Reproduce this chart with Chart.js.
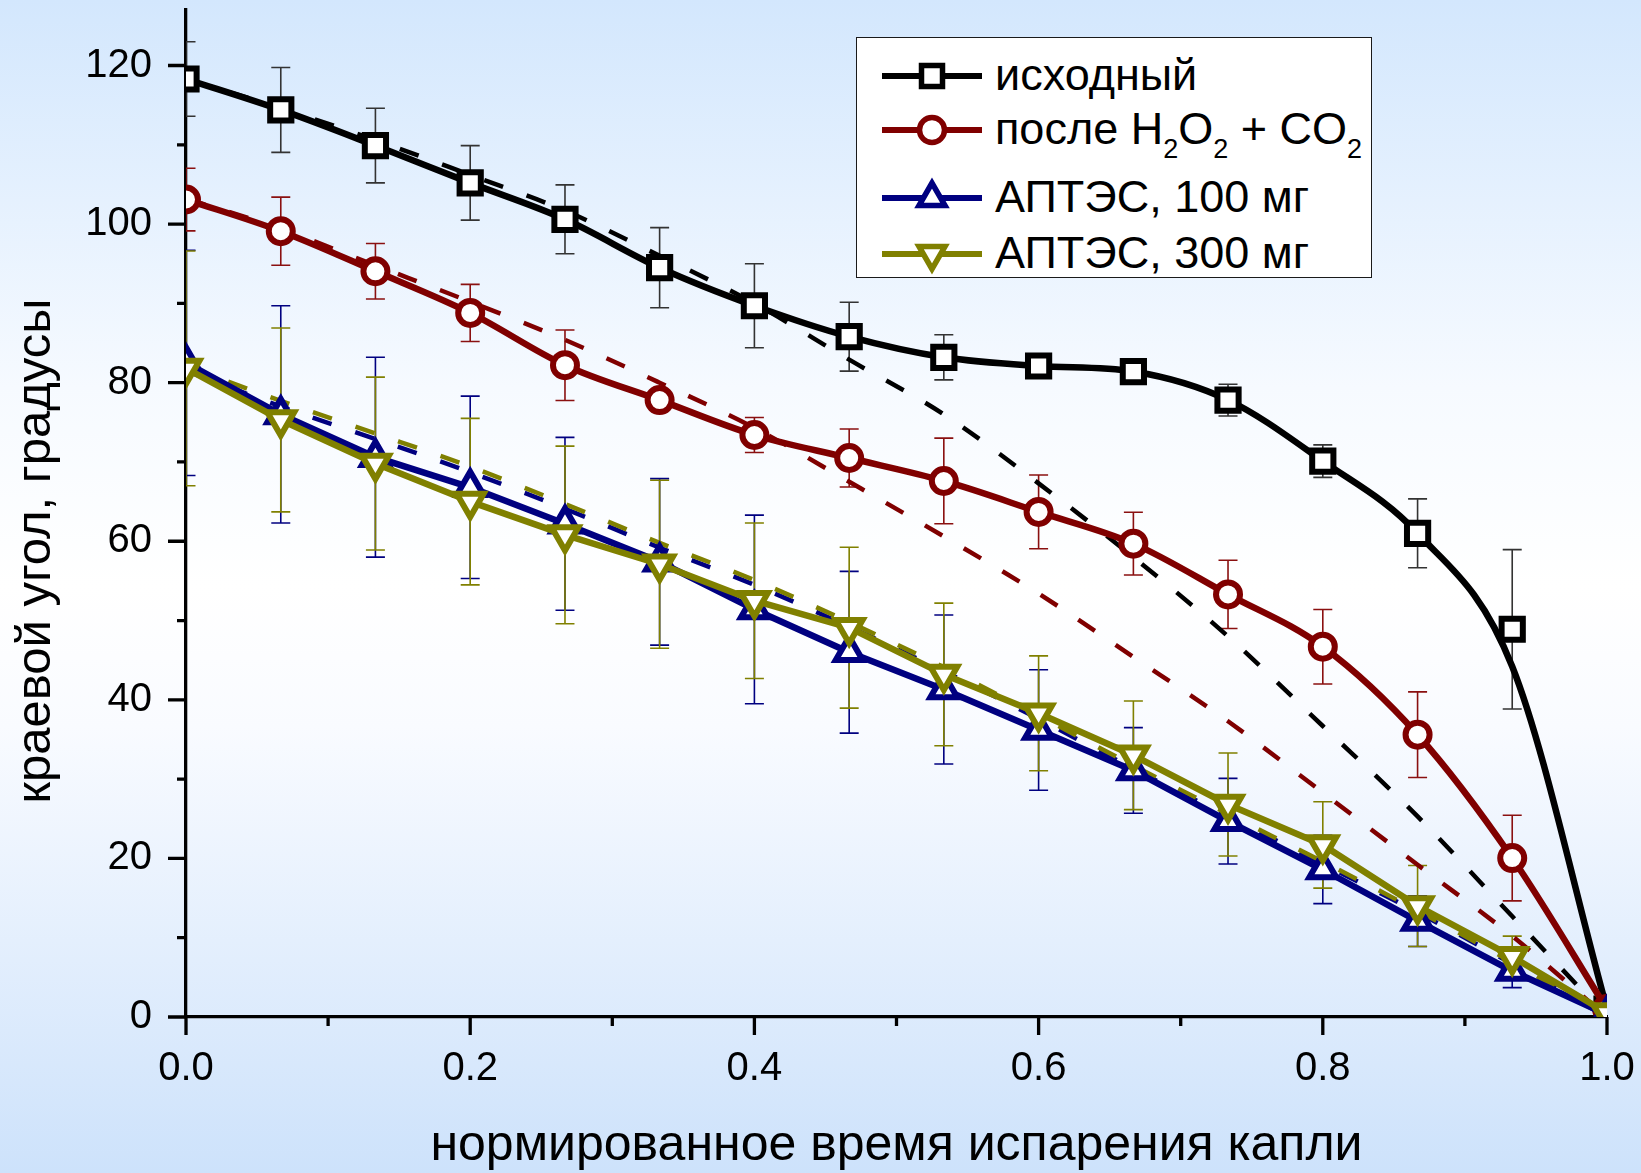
<!DOCTYPE html>
<html lang="ru">
<head>
    <meta charset="UTF-8">
    <title>Краевой угол при испарении капли</title>
    <script src="https://cdn.jsdelivr.net/npm/chart.js"></script>
    <style>
        html, body {
            margin: 0;
            padding: 0;
        }
        body {
            width: 1641px;
            height: 1173px;
            position: relative;
            overflow: hidden;
            font-family: "Liberation Sans", Arial, sans-serif;
            background: linear-gradient(to bottom,
                rgb(211, 231, 253) 0%,
                rgb(246, 250, 255) 33%,
                #ffffff 50%,
                rgb(249, 251, 255) 62%,
                rgb(205, 226, 251) 100%);
        }
        #chart {
            position: absolute;
            left: 0;
            top: 0;
        }
        .legend {
            position: absolute;
            left: 856px;
            top: 37px;
            width: 516px;
            height: 241px;
            box-sizing: border-box;
            background: #fff;
            border: 1.5px solid #1a1a1a;
        }
        .legend .row {
            position: absolute;
            left: 0;
            width: 100%;
            height: 50px;
        }
        .legend svg {
            position: absolute;
            left: 0;
            top: 0;
        }
        .legend .txt {
            position: absolute;
            left: 138px;
            top: 1px;
            font-size: 45px;
            line-height: 45px;
            color: #000;
            white-space: nowrap;
        }
        .legend sub {
            font-size: 27px;
            vertical-align: -14px;
            line-height: 0;
        }
    </style>
</head>
<body>
    <canvas id="chart" width="1641" height="1173"></canvas>

    <!-- легенда -->
    <div class="legend">
        <div class="row" style="top:13px">
            <svg width="130" height="50">
                <line x1="25" y1="25" x2="125" y2="25" stroke="#000" stroke-width="6"/>
                <rect x="64.5" y="14.5" width="21" height="21" fill="#fff" stroke="#000" stroke-width="5.5"/>
            </svg>
            <span class="txt">исходный</span>
        </div>
        <div class="row" style="top:67px">
            <svg width="130" height="50">
                <line x1="25" y1="25" x2="125" y2="25" stroke="#800000" stroke-width="6"/>
                <circle cx="75" cy="25" r="12.5" fill="#fff" stroke="#800000" stroke-width="5.5"/>
            </svg>
            <span class="txt">после H<sub>2</sub>O<sub>2</sub> + CO<sub>2</sub></span>
        </div>
        <div class="row" style="top:135px">
            <svg width="130" height="50">
                <line x1="25" y1="25" x2="125" y2="25" stroke="#000080" stroke-width="6"/>
                <polygon points="75,10 62,32.5 88,32.5" fill="#fff" stroke="#000080" stroke-width="5.5"/>
            </svg>
            <span class="txt">АПТЭС, 100 мг</span>
        </div>
        <div class="row" style="top:191px">
            <svg width="130" height="50">
                <line x1="25" y1="25" x2="125" y2="25" stroke="#808000" stroke-width="6"/>
                <polygon points="75,40 62,17.5 88,17.5" fill="#fff" stroke="#808000" stroke-width="5.5"/>
            </svg>
            <span class="txt">АПТЭС, 300 мг</span>
        </div>
    </div>

    <script>
        // нормированное время (ось X)
        const timeNorm = [0, 0.0667, 0.1333, 0.2, 0.2667, 0.3333, 0.4, 0.4667,
                          0.5333, 0.6, 0.6667, 0.7333, 0.8, 0.8667, 0.9333, 1.0];

        // исходный
        const ishodPoints = [118.3, 114.4, 109.9, 105.2, 100.6, 94.5, 89.7, 85.8,
                             83.2, 82.1, 81.4, 77.8, 70.1, 61.0, 48.9, 1.0];
        const ishodCurve  = [118.3, 114.4, 109.9, 105.2, 100.6, 94.5, 89.7, 85.8,
                             83.2, 82.1, 81.4, 77.8, 70.1, 61.0, 44.2, 1.0];
        const ishodErr    = [4.7, 5.35, 4.7, 4.7, 4.35, 5.05, 5.3, 4.35,
                             2.85, 0.8, 0.8, 2.0, 2.05, 4.35, 10.05, 0];
        const ishodDash   = [118.3, 114.6, 110.6, 106.2, 101.7, 96.0, 90.0, 82.9,
                             76.0, 67.3, 58.0, 48.0, 36.7, 25.3, 12.7, 0];

        // после H2O2 + CO2
        const posleVals = [103.1, 99.1, 94.05, 88.8, 82.2, 77.8, 73.4, 70.5,
                           67.6, 63.7, 59.7, 53.3, 46.7, 35.6, 20.05, 1.0];
        const posleErr  = [3.95, 4.3, 3.5, 3.6, 4.45, 1.2, 2.2, 3.65,
                           5.4, 4.65, 3.95, 4.3, 4.7, 5.4, 5.4, 0];
        const posleDash = [103.2, 99.4, 94.8, 90.2, 85.4, 80.0, 74.3, 67.5,
                           60.6, 53.4, 45.4, 37.3, 28.3, 19.2, 10.2, 0];

        // АПТЭС, 100 мг
        const aptes100Vals = [82.5, 76.0, 70.6, 66.8, 62.2, 57.4, 51.4, 46.0,
                              41.3, 36.2, 31.1, 24.7, 18.6, 12.1, 5.8, 0.3];
        const aptes100Err  = [14.2, 13.7, 12.6, 11.5, 10.9, 10.5, 11.9, 10.2,
                              9.4, 7.6, 5.4, 5.4, 4.3, 3.2, 2.1, 0];
        const aptes100Dash = [81.5, 77.0, 72.9, 68.7, 64.1, 59.2, 54.5, 49.2,
                              43.6, 37.6, 31.3, 25.3, 19.3, 13.2, 6.7, 0];

        // АПТЭС, 300 мг
        const aptes300Vals = [81.8, 75.3, 69.8, 65.0, 60.8, 57.1, 52.5, 49.1,
                              43.2, 38.3, 33.0, 26.8, 21.7, 14.0, 7.6, 0.5];
        const aptes300Err  = [14.8, 11.6, 10.9, 10.5, 11.2, 10.6, 9.8, 10.15,
                              9.0, 7.25, 6.85, 6.5, 5.45, 5.1, 2.6, 0];
        const aptes300Dash = [82.1, 77.7, 73.6, 69.4, 64.7, 59.8, 55.1, 49.8,
                              44.1, 38.0, 31.7, 25.6, 19.6, 13.4, 6.9, 0];

        // деления осей
        const xMajorTicks = [0, 0.2, 0.4, 0.6, 0.8, 1.0];
        const xMinorTicks = [0.1, 0.3, 0.5, 0.7, 0.9];
        const yMajorTicks = [0, 20, 40, 60, 80, 100, 120];
        const yMinorTicks = [10, 30, 50, 70, 90, 110];

        const BLACK = '#000000';
        const RED = '#800000';
        const NAVY = '#000080';
        const OLIVE = '#808000';
        const FONT = '"Liberation Sans", Arial, sans-serif';

        Chart.defaults.font.family = FONT;
        Chart.defaults.color = '#000';

        function pts(vals) {
            return timeNorm.map((x, i) => ({ x: x, y: vals[i] }));
        }

        function markers(vals, style, color, radius, bw, rot) {
            return {
                data: pts(vals),
                showLine: false,
                pointStyle: style,
                pointRotation: rot || 0,
                pointRadius: radius,
                pointBorderWidth: bw,
                pointBorderColor: color,
                pointBackgroundColor: '#fff',
                clip: 0
            };
        }

        function solid(vals, color, smooth) {
            return {
                data: pts(vals),
                borderColor: color,
                borderWidth: 6.5,
                pointRadius: 0,
                borderJoinStyle: 'round',
                cubicInterpolationMode: smooth ? 'monotone' : 'default',
                tension: 0,
                clip: 0
            };
        }

        function dashed(vals, color) {
            return {
                data: pts(vals),
                borderColor: color,
                borderWidth: 4.5,
                borderDash: [20, 25],
                pointRadius: 0,
                cubicInterpolationMode: 'monotone',
                clip: 0
            };
        }

        // усы погрешностей
        const errorSets = [
            { vals: ishodPoints, errs: ishodErr, color: '#333' },
            { vals: posleVals, errs: posleErr, color: '#8a1010' },
            { vals: aptes100Vals, errs: aptes100Err, color: NAVY },
            { vals: aptes300Vals, errs: aptes300Err, color: OLIVE }
        ];

        const errorBars = {
            id: 'errorBars',
            beforeDatasetsDraw(chart) {
                const { ctx, chartArea, scales: { x, y } } = chart;
                ctx.save();
                ctx.beginPath();
                ctx.rect(chartArea.left, chartArea.top, chartArea.right - chartArea.left, chartArea.bottom - chartArea.top);
                ctx.clip();
                ctx.lineWidth = 1.6;
                errorSets.forEach(s => {
                    ctx.strokeStyle = s.color;
                    s.vals.forEach((v, i) => {
                        if (!s.errs[i]) return;
                        const px = x.getPixelForValue(timeNorm[i]);
                        const top = y.getPixelForValue(v + s.errs[i]);
                        const bot = y.getPixelForValue(v - s.errs[i]);
                        ctx.beginPath();
                        ctx.moveTo(px, top); ctx.lineTo(px, bot);
                        ctx.moveTo(px - 9.5, top); ctx.lineTo(px + 9.5, top);
                        ctx.moveTo(px - 9.5, bot); ctx.lineTo(px + 9.5, bot);
                        ctx.stroke();
                    });
                });
                ctx.restore();
            }
        };

        // деления и подписи осей
        const axisDecor = {
            id: 'axisDecor',
            afterDraw(chart) {
                const { ctx, chartArea, scales: { x, y } } = chart;
                ctx.save();
                ctx.strokeStyle = '#000';
                ctx.lineWidth = 3.3;
                ctx.beginPath();
                xMajorTicks.forEach(v => {
                    const px = x.getPixelForValue(v);
                    ctx.moveTo(px, chartArea.bottom); ctx.lineTo(px, chartArea.bottom + 18);
                });
                xMinorTicks.forEach(v => {
                    const px = x.getPixelForValue(v);
                    ctx.moveTo(px, chartArea.bottom); ctx.lineTo(px, chartArea.bottom + 9);
                });
                yMajorTicks.forEach(v => {
                    const py = y.getPixelForValue(v);
                    ctx.moveTo(chartArea.left, py); ctx.lineTo(chartArea.left - 18, py);
                });
                yMinorTicks.forEach(v => {
                    const py = y.getPixelForValue(v);
                    ctx.moveTo(chartArea.left, py); ctx.lineTo(chartArea.left - 9, py);
                });
                ctx.stroke();

                ctx.fillStyle = '#000';
                ctx.font = '50px ' + FONT;
                ctx.textAlign = 'center';
                ctx.textBaseline = 'alphabetic';
                ctx.fillText('нормированное время испарения капли',
                    (chartArea.left + chartArea.right) / 2, chartArea.bottom + 143);

                ctx.font = '49px ' + FONT;
                ctx.translate(chartArea.left - 136, chartArea.bottom - 466);
                ctx.rotate(-Math.PI / 2);
                ctx.fillText('краевой угол, градусы', 0, 0);
                ctx.restore();
            }
        };

        new Chart(document.getElementById('chart'), {
            type: 'line',
            data: {
                datasets: [
                    markers(aptes300Vals, 'triangle', OLIVE, 15.5, 6, 180),
                    solid(aptes300Vals, OLIVE, false),
                    markers(aptes100Vals, 'triangle', NAVY, 15.5, 6),
                    solid(aptes100Vals, NAVY, false),
                    markers(posleVals, 'circle', RED, 12, 6),
                    solid(posleVals, RED, true),
                    markers(ishodPoints, 'rect', BLACK, 15, 6),
                    solid(ishodCurve, BLACK, true),
                    dashed(aptes300Dash, OLIVE),
                    dashed(aptes100Dash, NAVY),
                    dashed(posleDash, RED),
                    dashed(ishodDash, BLACK)
                ]
            },
            options: {
                responsive: false,
                animation: false,
                devicePixelRatio: 1,
                layout: {
                    autoPadding: false,
                    padding: { top: 10, right: 34, left: 0, bottom: 0 }
                },
                plugins: {
                    legend: { display: false },
                    tooltip: { enabled: false }
                },
                scales: {
                    x: {
                        type: 'linear',
                        min: 0,
                        max: 1,
                        afterFit: s => {
                            s.height = 156;
                            s.paddingLeft = 0;
                            s.paddingRight = 0;
                        },
                        afterBuildTicks: s => { s.ticks = xMajorTicks.map(v => ({ value: v })); },
                        grid: { display: false, drawTicks: false },
                        border: { display: true, color: '#000', width: 3.3 },
                        ticks: {
                            padding: 28,
                            font: { size: 40 },
                            color: '#000',
                            maxRotation: 0,
                            callback: v => v.toFixed(1)
                        }
                    },
                    y: {
                        min: 0,
                        max: 127,
                        afterFit: s => {
                            s.width = 186;
                            s.paddingTop = 0;
                            s.paddingBottom = 0;
                        },
                        afterBuildTicks: s => { s.ticks = yMajorTicks.map(v => ({ value: v })); },
                        grid: { display: false, drawTicks: false },
                        border: { display: true, color: '#000', width: 3.3 },
                        ticks: {
                            padding: 34,
                            font: { size: 40 },
                            color: '#000',
                            callback: v => String(v)
                        }
                    }
                }
            },
            plugins: [errorBars, axisDecor]
        });
    </script>
</body>
</html>
